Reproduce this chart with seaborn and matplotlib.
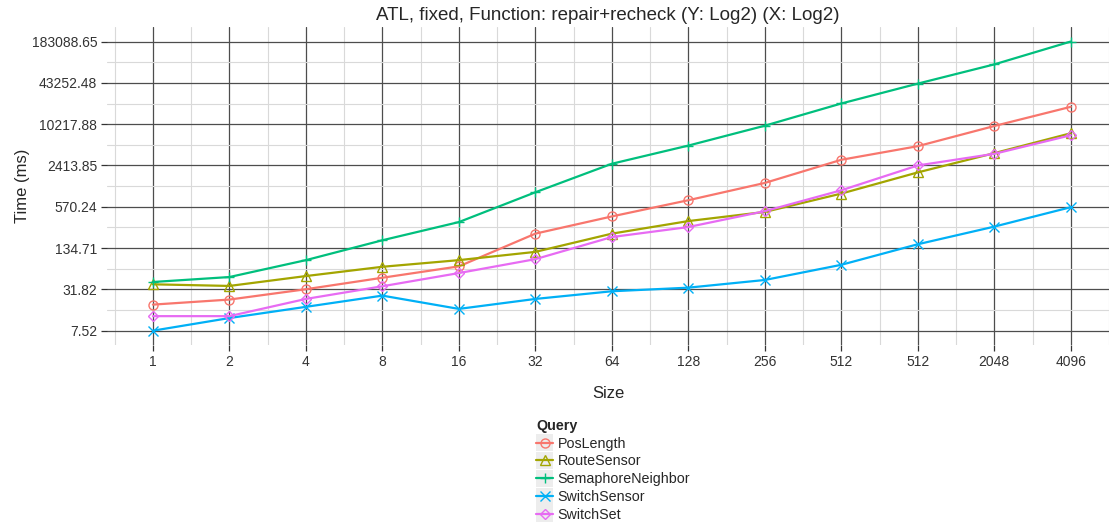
import numpy as np
import pandas as pd
import seaborn as sns
import matplotlib.pyplot as plt
from matplotlib.ticker import NullFormatter
from matplotlib.patches import Rectangle

sizes = ['1', '2', '4', '8', '16', '32', '64', '128', '256', '512', '512', '2048', '4096']
queries = ['PosLength', 'RouteSensor', 'SemaphoreNeighbor', 'SwitchSensor', 'SwitchSet']

pos_length = [18.7, 22.3, 32.0, 47.8, 71.1, 223, 407, 717, 1311, 2943, 4735, 9575, 18720]
route_sensor = [38.0, 35.9, 50.7, 70.1, 88.4, 118, 223, 346, 476, 904, 1894, 3712, 7434]
semaphore_neighbor = [41.2, 49.0, 88.4, 177, 334, 946, 2562, 4834, 9680, 21030, 42100, 82400, 183088.65]
switch_sensor = [7.52, 11.7, 17.3, 25.6, 16.1, 22.8, 29.8, 33.8, 44.2, 75.1, 154, 285, 562]
switch_set = [12.5, 12.5, 22.8, 35.5, 56.3, 91.5, 198, 281, 489, 1014, 2415, 3625, 6935]

y_ticks = [7.52, 31.82, 134.71, 570.24, 2413.85, 10217.88, 43252.48, 183088.65]

palette = {'PosLength': '#F8766D', 'RouteSensor': '#A3A500', 'SemaphoreNeighbor': '#00BF7D',
           'SwitchSensor': '#00B0F6', 'SwitchSet': '#E76BF3'}
markers = {'PosLength': 'o', 'RouteSensor': '^', 'SemaphoreNeighbor': '+',
           'SwitchSensor': 'x', 'SwitchSet': 'D'}

rows = []
for q, vals in zip(queries, [pos_length, route_sensor, semaphore_neighbor, switch_sensor, switch_set]):
    for i, v in enumerate(vals):
        rows.append({'Size': i, 'Time': v, 'Query': q})
df = pd.DataFrame(rows)

sns.set_theme(style='white')
plt.rcParams['font.family'] = ['Liberation Sans', 'DejaVu Sans']

fig = plt.figure(figsize=(11.09, 5.31), dpi=100)
ax = fig.add_axes([0.0965, 0.35, 0.9035, 0.599])

for q in queries:
    sns.lineplot(data=df[df['Query'] == q], x='Size', y='Time', color=palette[q],
                 marker=markers[q], ms=6.5 if markers[q] != 'D' else 5.5, lw=1.6,
                 mec=palette[q], mfc='none', mew=1.0, label=q, ax=ax)

ax.set_yscale('log', base=2)
lo, hi = np.log2(y_ticks[0]), np.log2(y_ticks[-1])
pad = (hi - lo) * 0.05
ax.set_ylim(2 ** (lo - pad), 2 ** (hi + pad))
ax.set_yticks(y_ticks)
ax.set_yticklabels([f'{t:.2f}' for t in y_ticks])
ax.set_yticks([np.sqrt(a * b) for a, b in zip(y_ticks[:-1], y_ticks[1:])], minor=True)
ax.yaxis.set_minor_formatter(NullFormatter())

ax.set_xlim(-0.6, 12.48)
ax.set_xticks(range(len(sizes)))
ax.set_xticklabels(sizes)
ax.set_xticks(np.arange(-0.5, 12.6, 1.0), minor=True)
ax.xaxis.set_minor_formatter(NullFormatter())

ax.grid(which='major', color='#4d4d4d', lw=0.9)
ax.grid(which='minor', color='#d9d9d9', lw=0.8)
ax.set_axisbelow(True)
for s in ax.spines.values():
    s.set_visible(False)
ax.tick_params(which='major', length=4, width=0.9, color='#333333', labelsize=10,
               labelcolor='#333333', left=True, bottom=True, pad=3)
ax.tick_params(which='minor', length=0)

ax.set_title('ATL, fixed, Function: repair+recheck (Y: Log2) (X: Log2)', fontsize=13.5, pad=5)
ax.set_xlabel('Size', fontsize=12, labelpad=12)
ax.set_ylabel('Time (ms)', fontsize=12)
ax.yaxis.set_label_coords(-0.077, 0.5)

sns.move_legend(ax, 'upper left', bbox_to_anchor=(0.477, 0.225), bbox_transform=fig.transFigure,
                frameon=False, title='Query', fontsize=10.3, title_fontsize=10.3,
                handlelength=1.2, handletextpad=0.3, labelspacing=0.27, borderpad=0,
                alignment='left')
leg = ax.get_legend()
leg.get_title().set_fontweight('bold')

# grey key backgrounds like ggplot
fig.canvas.draw()
for h in leg.legend_handles:
    bb = h.get_window_extent()
    cx, cy = (bb.x0 + bb.x1) / 2, (bb.y0 + bb.y1) / 2
    fig.add_artist(Rectangle((cx - 8.5, cy - 8.5), 17, 17, transform=None,
                             facecolor='#ededed', edgecolor='none', zorder=-1))

fig.savefig('out.png', dpi=100)
